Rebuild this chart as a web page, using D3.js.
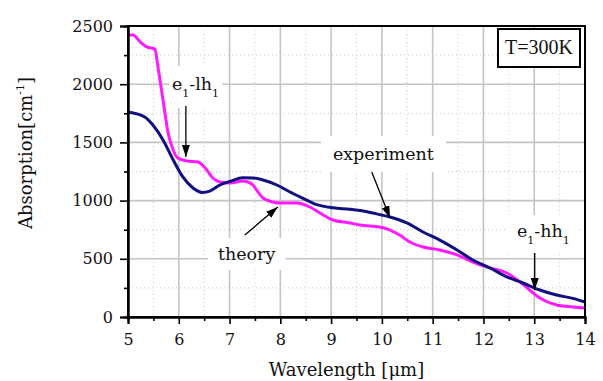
<!DOCTYPE html>
<html><head><meta charset="utf-8">
<script src="https://cdn.jsdelivr.net/npm/d3@7"></script>
<style>
html,body{margin:0;padding:0;background:#fff;}
svg{display:block;font-family:"DejaVu Serif",serif;}
</style></head>
<body><svg id="c" width="603" height="381"></svg>
<script>
// ---- data ----
const expWave = [5.00,5.33,5.49,5.69,5.89,6.08,6.28,6.46,6.61,6.81,7.01,7.26,7.46,7.66,7.93,8.19,8.44,8.72,9.04,9.37,9.57,9.82,10.16,10.49,10.81,11.14,11.48,11.79,12.13,12.46,12.78,13.11,13.44,13.76,14.00];
const expAbs  = [1761,1718,1649,1521,1349,1203,1108,1070,1082,1134,1165,1197,1195,1177,1134,1074,1022,965,938,926,915,893,859,808,730,661,576,490,421,344,292,232,189,160,129];
const thWave = [5.00,5.10,5.24,5.37,5.53,5.59,5.69,5.79,5.89,5.98,6.16,6.38,6.52,6.67,6.81,7.01,7.26,7.44,7.56,7.66,7.74,7.99,8.33,8.58,8.78,9.04,9.37,9.57,9.96,10.16,10.35,10.55,10.81,11.14,11.48,11.79,12.13,12.46,12.72,12.91,13.11,13.44,13.76,14.00];
const thAbs  = [2423,2423,2363,2320,2302,2148,1864,1581,1435,1366,1340,1332,1280,1194,1160,1151,1168,1143,1074,1022,1005,979,979,945,893,833,808,790,773,747,704,644,601,576,533,472,421,378,301,232,163,103,86,77];
const xTicks = [5,6,7,8,9,10,11,12,13,14];
const yTicks = [0,500,1000,1500,2000,2500];
const xLabel = "Wavelength [\u03bcm]";
const tempLabel = "T=300K";

// ---- layout ----
const svg = d3.select("#c");
const L=128, R=585, T=26, B=317;
const x = d3.scaleLinear().domain([5,14]).range([L,R]);
const y = d3.scaleLinear().domain([0,2500]).range([B,T]);

// grid
const g = svg.append("g");
d3.range(5.5,14,0.5).forEach(v=>{
  const major = Number.isInteger(v);
  g.append("line").attr("x1",x(v)).attr("x2",x(v)).attr("y1",T).attr("y2",B)
   .attr("stroke",major?"#c4c4c4":"#c8c8c8").attr("stroke-width",major?1.6:1)
   .attr("stroke-dasharray",major?null:"1,3");
});
d3.range(250,2500,250).forEach(v=>{
  const major = v%500===0;
  g.append("line").attr("y1",y(v)).attr("y2",y(v)).attr("x1",L).attr("x2",R)
   .attr("stroke",major?"#c4c4c4":"#c8c8c8").attr("stroke-width",major?1.6:1)
   .attr("stroke-dasharray",major?null:"1,3");
});

// curves
const line = d3.line().x(d=>x(d[0])).y(d=>y(d[1])).curve(d3.curveMonotoneX);
svg.append("path").datum(thWave.map((w,i)=>[w,thAbs[i]]))
  .attr("d",line).attr("fill","none").attr("stroke","#ff1aff").attr("stroke-width",3);
svg.append("path").datum(expWave.map((w,i)=>[w,expAbs[i]]))
  .attr("d",line).attr("fill","none").attr("stroke","#101080").attr("stroke-width",3);

// annotations
const defs = svg.append("defs");
defs.append("marker").attr("id","ah").attr("viewBox","0 0 12 8").attr("refX",12).attr("refY",4)
  .attr("markerWidth",12).attr("markerHeight",8).attr("markerUnits","userSpaceOnUse").attr("orient","auto")
  .append("path").attr("d","M0,0L12,4L0,8Z").attr("fill","#000");

function label(parts, wx, wv, padX, padY){
  const grp = svg.append("g");
  const bg = grp.append("rect").attr("fill","#fff");
  const t = grp.append("text").attr("x",x(wx)).attr("y",y(wv)).attr("font-size",17.5).attr("fill","#111");
  parts.forEach(p=>{
    const ts = t.append("tspan").text(p.t);
    if(p.sub){ ts.attr("font-size",11).attr("dy",7); }
    else if(p.back){ ts.attr("dy",-7); }
  });
  const bb = t.node().getBBox();
  bg.attr("x",bb.x-padX).attr("y",bb.y-padY).attr("width",bb.width+2*padX).attr("height",bb.height+2*padY);
  return grp;
}
function arrow(w1,v1,w2,v2){
  svg.append("line").attr("x1",x(w1)).attr("y1",y(v1)).attr("x2",x(w2)).attr("y2",y(v2))
    .attr("stroke","#000").attr("stroke-width",1.3).attr("marker-end","url(#ah)");
}
label([{t:"e"},{t:"1",sub:true},{t:"-lh",back:true},{t:"1",sub:true}], 5.866, 1950, 3, 8);
arrow(6.14,1813,6.14,1375);
label([{t:"experiment"}], 9.035, 1349, 12, 8);
arrow(9.80,1246,10.16,851);
label([{t:"theory"}], 6.77, 490, 10, 6);
arrow(7.30,704,7.95,945);
label([{t:"e"},{t:"1",sub:true},{t:"-hh",back:true},{t:"1",sub:true}], 12.66, 687, 10, 6);
arrow(13.01,550,13.01,232);

// temperature box
svg.append("rect").attr("x",R-87).attr("y",T+3).attr("width",82).attr("height",38)
  .attr("fill","#fff").attr("stroke","#000").attr("stroke-width",2);
svg.append("text").attr("x",R-46).attr("y",T+28).attr("text-anchor","middle")
  .attr("font-family","'Liberation Serif',serif").attr("font-size",20).attr("fill","#111").text(tempLabel);

// frame
svg.append("rect").attr("x",L).attr("y",T).attr("width",R-L).attr("height",B-T)
  .attr("fill","none").attr("stroke","#000").attr("stroke-width",2);

// axes
const xa = svg.append("g").attr("transform",`translate(0,${B})`)
  .call(d3.axisBottom(x).tickValues(xTicks).tickFormat(d3.format("d")).tickSize(7).tickPadding(10));
const xm = svg.append("g").attr("transform",`translate(0,${B})`)
  .call(d3.axisBottom(x).tickValues(d3.range(5.5,14,1)).tickFormat("").tickSize(4));
const ya = svg.append("g").attr("transform",`translate(${L},0)`)
  .call(d3.axisLeft(y).tickValues(yTicks).tickFormat(d3.format("d")).tickSize(8).tickPadding(7));
const ym = svg.append("g").attr("transform",`translate(${L},0)`)
  .call(d3.axisLeft(y).tickValues(d3.range(250,2500,500)).tickFormat("").tickSize(4));
[xa,xm,ya,ym].forEach(a=>{
  a.select(".domain").attr("stroke","#000").attr("stroke-width",2);
  a.selectAll(".tick line").attr("stroke","#000").attr("stroke-width",1.6);
  a.selectAll("text").attr("font-family","'DejaVu Serif',serif").attr("font-size",16).attr("fill","#111");
});

// axis titles
svg.append("text").attr("x",(L+R)/2-10).attr("y",376).attr("text-anchor","middle")
  .attr("font-size",18).attr("fill","#111").text(xLabel);
const yt = svg.append("text").attr("transform","translate(32,153) rotate(-90)").attr("text-anchor","middle")
  .attr("font-size",18).attr("fill","#111");
yt.append("tspan").text("Absorption[cm");
yt.append("tspan").attr("font-size",11).attr("dy",-8).text("-1");
yt.append("tspan").attr("dy",8).text("]");
</script></body></html>
